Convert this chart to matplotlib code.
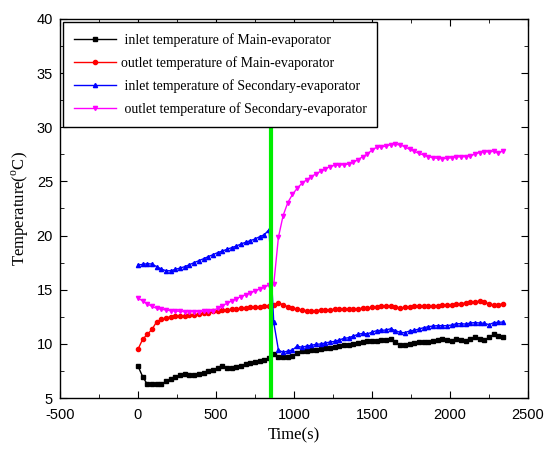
import matplotlib
matplotlib.use('Agg')
import matplotlib.pyplot as plt
from matplotlib.ticker import MultipleLocator
import numpy as np

plt.rcParams['font.family'] = ['Liberation Sans', 'DejaVu Sans']
plt.rcParams['mathtext.fontset'] = 'custom'
plt.rcParams['mathtext.rm'] = 'Liberation Serif'
plt.rcParams['axes.unicode_minus'] = False

# sampling every 30 s, 0 .. 2340 s
time = np.arange(0, 2341, 30)
switch_time = 850

inlet_main = [7.95, 6.97, 6.26, 6.3, 6.3, 6.28, 6.54, 6.74, 6.92, 7.1,
              7.25, 7.15, 7.1, 7.25, 7.35, 7.47, 7.6, 7.75, 7.95, 7.75,
              7.8, 7.9, 8.0, 8.1, 8.2, 8.3, 8.45, 8.55, 8.68,
              9.06, 8.75, 8.78, 8.8, 8.88, 9.15, 9.3, 9.37, 9.4, 9.46,
              9.52, 9.58, 9.66, 9.74, 9.82, 9.88, 9.93, 10.0, 10.1, 10.17,
              10.22, 10.25, 10.3, 10.36, 10.4, 10.47, 10.14, 9.9, 9.88, 9.95,
              10.1, 10.17, 10.2, 10.2, 10.27, 10.33, 10.42, 10.33, 10.27, 10.45,
              10.36, 10.3, 10.48, 10.6, 10.45, 10.36, 10.6, 10.88, 10.77, 10.64]

outlet_main = [9.5, 10.42, 10.88, 11.34, 12.05, 12.27, 12.4, 12.5, 12.55, 12.58,
               12.58, 12.62, 12.65, 12.73, 12.82, 12.88, 13.0, 13.04, 13.1, 13.13,
               13.19, 13.22, 13.28, 13.31, 13.37, 13.4, 13.43, 13.46, 13.5,
               13.6, 13.8, 13.6, 13.43, 13.3, 13.2, 13.13, 13.06, 13.03, 13.06,
               13.12, 13.13, 13.16, 13.19, 13.19, 13.2, 13.22, 13.25, 13.25, 13.28,
               13.31, 13.36, 13.4, 13.46, 13.5, 13.52, 13.43, 13.31, 13.37, 13.43,
               13.46, 13.46, 13.46, 13.46, 13.49, 13.52, 13.56, 13.59, 13.6, 13.65,
               13.71, 13.77, 13.84, 13.9, 13.93, 13.87, 13.68, 13.59, 13.62, 13.71]

inlet_sec = [17.28, 17.34, 17.4, 17.37, 17.13, 16.91, 16.75, 16.75, 16.88, 17.0,
             17.13, 17.31, 17.5, 17.68, 17.86, 18.05, 18.23, 18.42, 18.57, 18.73,
             18.88, 19.03, 19.22, 19.38, 19.53, 19.68, 19.9, 20.08, 20.55,
             11.99, 9.43, 9.22, 9.34, 9.43, 9.8, 9.68, 9.8, 9.86, 9.96,
             9.99, 10.08, 10.17, 10.23, 10.36, 10.51, 10.57, 10.72, 10.88, 10.97,
             10.91, 11.09, 11.22, 11.25, 11.28, 11.4, 11.22, 11.06, 11.03, 11.19,
             11.25, 11.37, 11.49, 11.58, 11.65, 11.68, 11.68, 11.68, 11.74, 11.86,
             11.86, 11.83, 11.93, 11.96, 11.93, 11.9, 11.77, 11.96, 11.99, 12.02]

outlet_sec = [14.23, 13.96, 13.7, 13.45, 13.28, 13.19, 13.13, 13.06, 13.03, 13.0,
              12.97, 12.97, 12.97, 12.98, 13.0, 13.0, 13.05, 13.28, 13.52, 13.74,
              13.96, 14.17, 14.36, 14.54, 14.7, 14.88, 15.06, 15.25, 15.43,
              15.5, 19.84, 21.84, 23.04, 23.8, 24.36, 24.82, 25.13, 25.44, 25.68,
              25.93, 26.15, 26.36, 26.48, 26.52, 26.54, 26.6, 26.76, 27.0, 27.28,
              27.53, 27.9, 28.15, 28.2, 28.24, 28.39, 28.42, 28.36, 28.2, 27.96,
              27.78, 27.59, 27.44, 27.28, 27.19, 27.13, 27.1, 27.12, 27.19, 27.25,
              27.28, 27.28, 27.34, 27.53, 27.66, 27.75, 27.72, 27.78, 27.59, 27.84]

labels = [' inlet temperature of Main-evaporator',
          'outlet temperature of Main-evaporator',
          ' inlet temperature of Secondary-evaporator',
          ' outlet temperature of Secondary-evaporator']

fig = plt.figure(figsize=(5.45, 4.54), dpi=100)
ax = fig.add_axes([0.110, 0.1233, 0.859, 0.835])

series = [(inlet_main, 'black', 's'), (outlet_main, 'red', 'o'),
          (inlet_sec, 'blue', '^'), (outlet_sec, 'magenta', 'v')]
for (vals, col, mk), lab in zip(series, labels):
    ax.plot(time, vals, color=col, marker=mk, markersize=3, linewidth=1, label=lab)

ax.plot([switch_time, switch_time], [5, 30], color='#00ee00', linewidth=3, zorder=5)

ax.set_xlim(-500, 2500)
ax.set_ylim(5, 40)
ax.xaxis.set_major_locator(MultipleLocator(500))
ax.xaxis.set_minor_locator(MultipleLocator(250))
ax.yaxis.set_major_locator(MultipleLocator(5))
ax.yaxis.set_minor_locator(MultipleLocator(2.5))
ax.tick_params(which='both', direction='in', top=True, right=True, labelsize=10.5)
ax.tick_params(which='major', length=5)
ax.tick_params(which='minor', length=3)
ax.tick_params(axis='x', pad=7)
ax.tick_params(axis='y', pad=5)
for sp in ax.spines.values():
    sp.set_linewidth(1)

ax.set_xlabel('Time(s)', family='Liberation Serif', fontsize=12)
ax.set_ylabel('Temperature($^{\\mathrm{o}}$C)', family='Liberation Serif', fontsize=12)

leg = ax.legend(loc='upper left', bbox_to_anchor=(0.0, 1.0), borderaxespad=0.25,
                fancybox=False, edgecolor='black', framealpha=1,
                prop={'family': 'Liberation Serif', 'size': 10},
                handlelength=3.0, handletextpad=0.35, labelspacing=0.66, borderpad=0.78,
                numpoints=1)
leg.get_frame().set_linewidth(1)

plt.savefig('out.png', dpi=100)
